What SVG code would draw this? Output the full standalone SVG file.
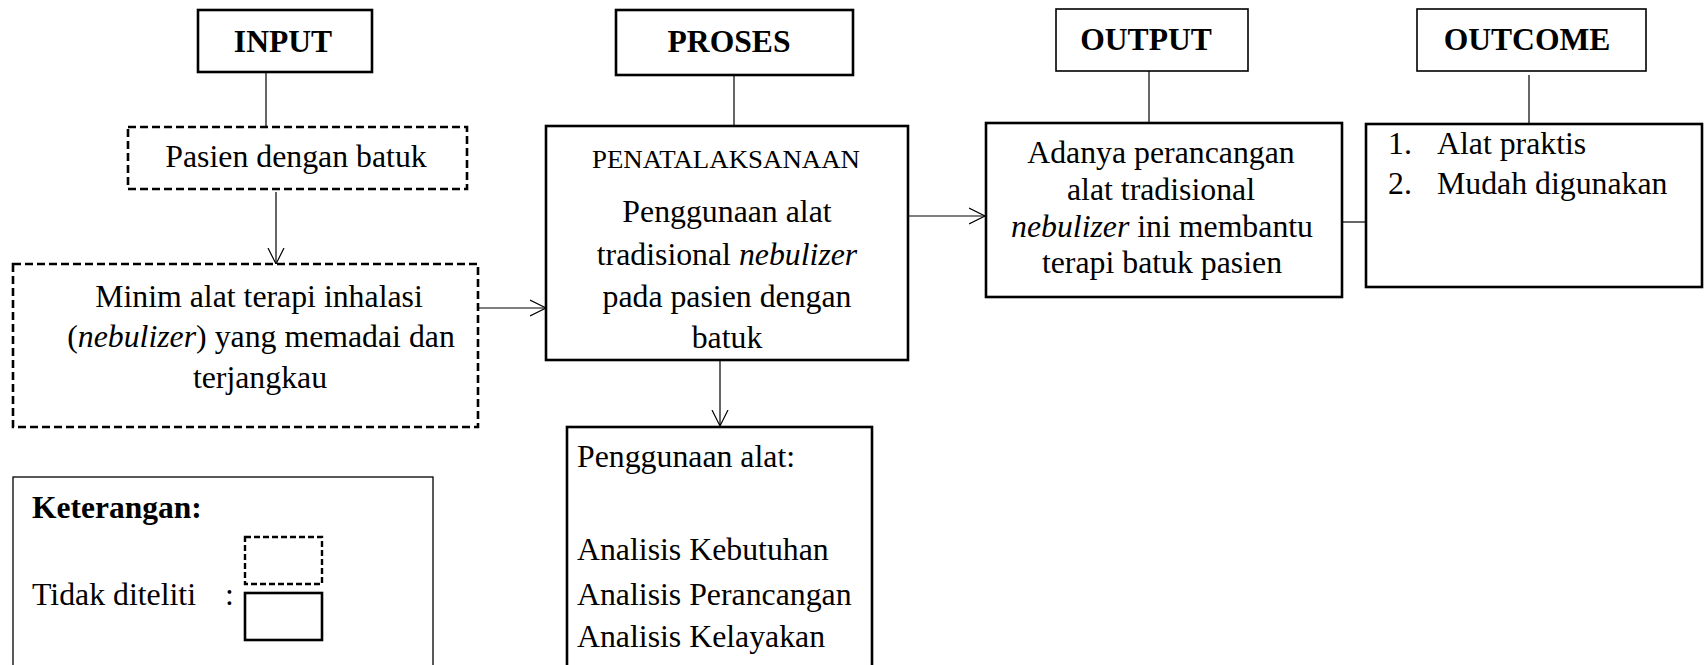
<svg xmlns="http://www.w3.org/2000/svg" width="1705" height="665" viewBox="0 0 1705 665">
<defs>
<marker id="arr" markerUnits="userSpaceOnUse" markerWidth="18" markerHeight="20" refX="16" refY="9" orient="auto">
<path d="M0,1 L16,9 L0,17" fill="none" stroke="#000" stroke-width="1.2"/>
</marker>
</defs>
<style>
text{font-family:"Liberation Serif","Times New Roman",serif;fill:#000;font-size:31.8px}
.h{font-weight:bold;font-size:31.6px;text-anchor:middle}
.c{text-anchor:middle}
.i{font-style:italic}
.thick{fill:#fff;stroke:#000;stroke-width:2.6}
.thin{fill:#fff;stroke:#000;stroke-width:1.6}
.dash{fill:#fff;stroke:#000;stroke-width:2.6;stroke-dasharray:8 4}
.ln{fill:none;stroke:#000;stroke-width:1.2}
</style>
<rect width="1705" height="665" fill="#fff"/>
<g id="connectors">
<line class="ln" x1="266" y1="72" x2="266" y2="127"/>
<line class="ln" x1="734" y1="75" x2="734" y2="126"/>
<line class="ln" x1="1149" y1="71" x2="1149" y2="123"/>
<line class="ln" x1="1529" y1="75" x2="1529" y2="124"/>
<line class="ln" x1="276" y1="192" x2="276" y2="264" marker-end="url(#arr)"/>
<line class="ln" x1="478" y1="308" x2="546" y2="308" marker-end="url(#arr)"/>
<line class="ln" x1="908" y1="216" x2="985" y2="216" marker-end="url(#arr)"/>
<line class="ln" x1="720" y1="360" x2="720" y2="426" marker-end="url(#arr)"/>
<line class="ln" x1="1342" y1="222" x2="1366" y2="222"/>
</g>
<g id="input">
<rect class="thick" x="198" y="10" width="174" height="62"/>
<text class="h" x="283" y="52">INPUT</text>
</g>
<g id="proses">
<rect class="thick" x="616" y="10" width="237" height="65"/>
<text class="h" x="729" y="52">PROSES</text>
</g>
<g id="output">
<rect class="thin" x="1056" y="9" width="192" height="62"/>
<text class="h" x="1146" y="50">OUTPUT</text>
</g>
<g id="outcome">
<rect class="thin" x="1417" y="9" width="229" height="62"/>
<text class="h" x="1527" y="50">OUTCOME</text>
</g>
<g id="pasien">
<rect class="dash" x="128" y="127" width="339" height="62"/>
<text class="c" x="296" y="167">Pasien dengan batuk</text>
</g>
<g id="minim">
<rect class="dash" x="13" y="264" width="465" height="163"/>
<text class="c" x="259" y="307">Minim alat terapi inhalasi</text>
<text class="c" x="261" y="347">(<tspan class="i">nebulizer</tspan>) yang memadai dan</text>
<text class="c" x="260" y="388">terjangkau</text>
</g>
<g id="penatalaksanaan">
<rect class="thick" x="546" y="126" width="362" height="234"/>
<text class="c" x="726" y="168" font-size="25.5" textLength="268" lengthAdjust="spacingAndGlyphs" style="font-size:25.5px">PENATALAKSANAAN</text>
<text class="c" x="727" y="222">Penggunaan alat</text>
<text class="c" x="727" y="265">tradisional <tspan class="i">nebulizer</tspan></text>
<text class="c" x="727" y="307">pada pasien dengan</text>
<text class="c" x="727" y="348">batuk</text>
</g>
<g id="hasil">
<rect class="thick" x="986" y="123" width="356" height="174"/>
<text class="c" x="1161" y="163">Adanya perancangan</text>
<text class="c" x="1161" y="200">alat tradisional</text>
<text class="c" x="1162" y="237"><tspan class="i">nebulizer</tspan> ini membantu</text>
<text class="c" x="1162" y="273">terapi batuk pasien</text>
</g>
<g id="manfaat">
<rect class="thick" x="1366" y="124" width="336" height="163"/>
<text x="1388" y="154">1.</text>
<text x="1437" y="154">Alat praktis</text>
<text x="1388" y="194">2.</text>
<text x="1437" y="194">Mudah digunakan</text>
</g>
<g id="penggunaan">
<rect class="thick" x="567" y="427" width="305" height="260"/>
<text x="577" y="467">Penggunaan alat:</text>
<text x="577" y="560">Analisis Kebutuhan</text>
<text x="577" y="605">Analisis Perancangan</text>
<text x="577" y="647">Analisis Kelayakan</text>
</g>
<g id="keterangan">
<rect class="thin" x="13" y="477" width="420" height="220" style="stroke-width:1.3"/>
<text x="32" y="518" font-weight="bold" style="font-size:31.5px">Keterangan:</text>
<text x="32" y="605">Tidak diteliti</text>
<text x="225" y="605">:</text>
<rect x="245" y="537" width="77" height="47" fill="#fff" stroke="#000" stroke-width="2.4" stroke-dasharray="6 3"/>
<rect x="245" y="593" width="77" height="47" fill="#fff" stroke="#000" stroke-width="2.6"/>
</g>
</svg>
